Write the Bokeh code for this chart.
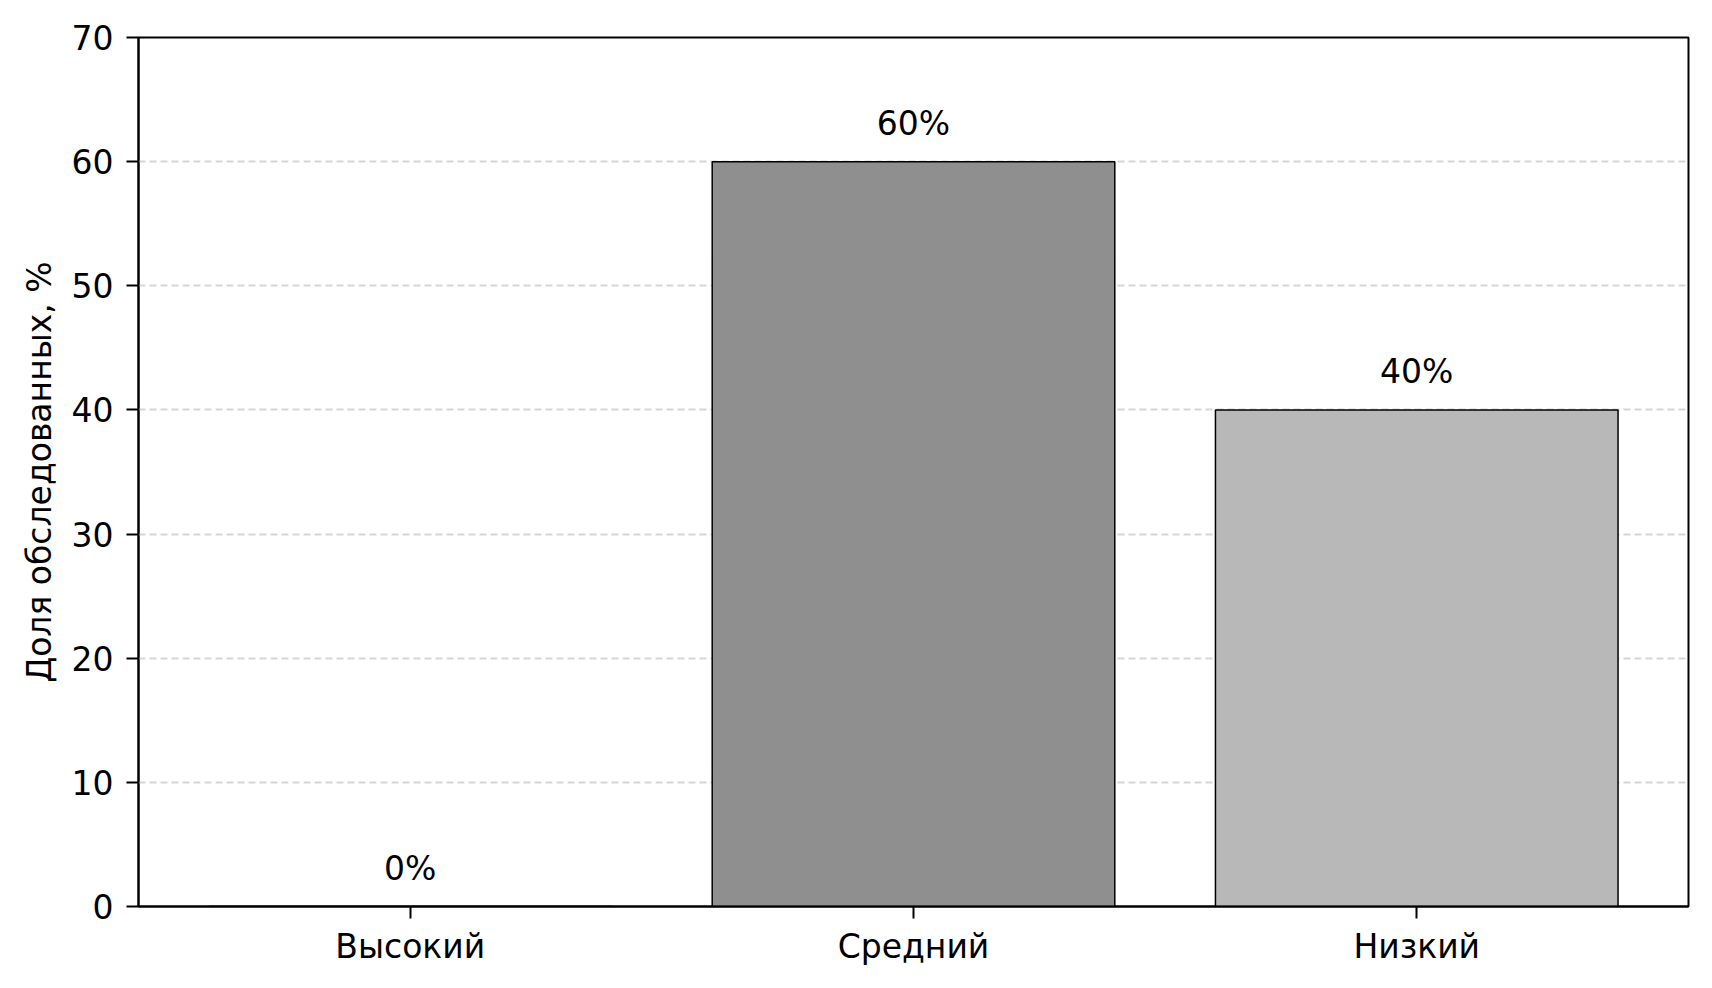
from bokeh.plotting import figure
from bokeh.models import Range1d, FixedTicker, ColumnDataSource
from bokeh.core.properties import value
from bokeh.embed import file_html
from bokeh.resources import INLINE

categories = ["Высокий", "Средний", "Низкий"]
shares = [0, 60, 40]
bar_colors = ["#6e6e6e", "#8f8f8f", "#b8b8b8"]
y_ticks = [0, 10, 20, 30, 40, 50, 60, 70]

FONT = "DejaVu Sans"
xs = list(range(len(categories)))

src = ColumnDataSource(dict(
    x=xs, top=shares, color=bar_colors,
    label=[f"{v}%" for v in shares],
    ly=[v + 1.5 for v in shares],
))

p = figure(width=1696, height=972, output_backend="svg", toolbar_location=None,
           x_range=Range1d(-0.54, 2.54), y_range=Range1d(0, 70))
p.min_border_left = 138
p.min_border_right = 8
p.min_border_top = 37
p.min_border_bottom = 66
p.outline_line_color = "black"
p.outline_line_width = 2
p.background_fill_color = "white"
p.border_fill_color = "white"

p.vbar(x="x", top="top", bottom=0, width=0.8, fill_color="color",
       line_color="black", line_width=1.5, source=src)

p.text(x="x", y="ly", text="label", source=src, text_align="center",
       text_baseline="bottom", text_font=value(FONT), text_font_size="33px",
       text_color="black")

p.xgrid.visible = False
p.ygrid.grid_line_color = "#d6d6d6"
p.ygrid.grid_line_dash = "7 4"
p.ygrid.grid_line_width = 1.8
p.ygrid.ticker = FixedTicker(ticks=y_ticks)

p.yaxis.ticker = FixedTicker(ticks=y_ticks)
p.xaxis.ticker = FixedTicker(ticks=xs)
p.xaxis.major_label_overrides = {i: c for i, c in enumerate(categories)}

for ax in (p.xaxis, p.yaxis):
    ax.major_label_text_font = FONT
    ax.major_label_text_font_size = "33px"
    ax.major_label_text_color = "black"
    ax.axis_line_color = "black"
    ax.axis_line_width = 2
    ax.major_tick_line_color = "black"
    ax.major_tick_line_width = 2
    ax.major_tick_out = 12
    ax.major_tick_in = 0
    ax.minor_tick_line_color = None

p.xaxis.major_label_standoff = 8
p.yaxis.major_label_standoff = 13

p.yaxis.axis_label = "Доля обследованных, %"
p.yaxis.axis_label_text_font = FONT
p.yaxis.axis_label_text_font_size = "33px"
p.yaxis.axis_label_text_font_style = "normal"
p.yaxis.axis_label_text_color = "black"
p.yaxis.axis_label_standoff = 10

open("out.html", "w").write(file_html(p, INLINE))
